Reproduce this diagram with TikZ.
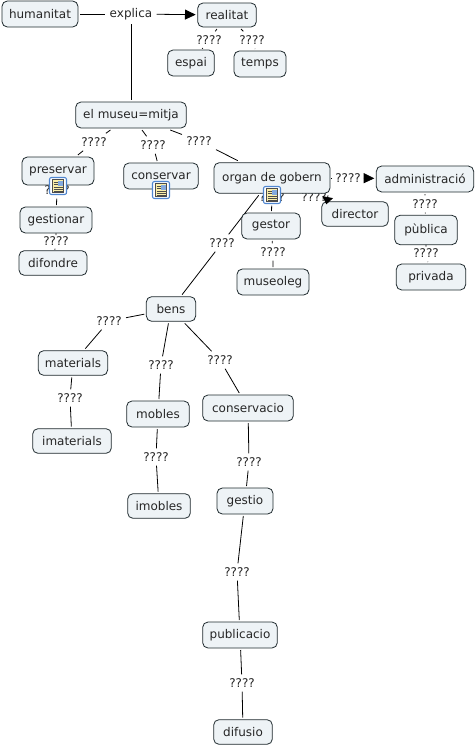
\documentclass[tikz,border=0pt]{standalone}
\usepackage{fontspec}
\setmainfont{DejaVu Sans}
\usetikzlibrary{arrows.meta,backgrounds}
\definecolor{cptfill}{HTML}{EEF3F6}
\definecolor{cptedge}{HTML}{1F2A2E}
\definecolor{iconblue}{HTML}{4F86D0}
\definecolor{iconpaper}{HTML}{FBEFA8}

\begin{document}
\begin{tikzpicture}[
  x=0.75pt, y=-0.75pt,
  font=\fontsize{9}{10}\selectfont,
  cpt/.style={rectangle, rounded corners=4pt, draw=cptedge, line width=0.6pt, outer sep=1.5pt,
              minimum height=19.5pt, inner sep=1pt, fill=cptfill, text=black!85, align=center},
  lbl/.style={inner sep=3pt, text=black!85},
  lnk/.style={draw=black, line width=0.6pt},
  arw/.style={lnk, -{Triangle[length=8pt,width=7.5pt]}},
  noteicon/.pic={
    \draw[iconblue, line width=0.8pt, fill=white, rounded corners=1.5pt] (-8.5,-8.5) rectangle (8.5,8.5);
    \draw[black!70, line width=0.4pt, fill=iconpaper] (-5.5,-6.5) rectangle (5.5,6.5);
    \fill[iconblue!70] (0,-5.5) rectangle (4.5,-0.5);
    \foreach \yy in {-4,-1.5,1,3,5}{\draw[black!70, line width=0.4pt] (-4.5,\yy) -- (-0.5,\yy);}
    \draw[black!70, line width=0.4pt] (-0.5,1) -- (4.5,1) (-0.5,3) -- (4.5,3) (-0.5,5) -- (4.5,5);
  }
]
\useasboundingbox (0,0) rectangle (475,746);

\node[cpt, minimum width=57pt] (humanitat) at (40,14){humanitat};
\node[lbl] (explica) at (131,14){explica};
\node[cpt, minimum width=44pt, minimum height=18pt] (realitat) at (227,15){realitat};
\node[cpt, minimum width=35pt] (espai) at (191,63){espai};
\node[cpt, minimum width=39pt] (temps) at (260,64){temps};
\node[cpt, minimum width=83pt] (museu) at (131,115){el museu=mitja};

\node[cpt, minimum width=54pt, minimum height=21pt] (preservar) at (58,171){preservar};
\node[cpt, minimum width=56pt] (conservar) at (161,176){conservar};
\node[cpt, minimum width=87pt, minimum height=23pt] (organ) at (272,178){organ de gobern};
\node[cpt, minimum width=73pt] (administracio) at (425,179){administració};
\node[cpt, minimum width=50pt, minimum height=18.5pt] (director) at (355,214){director};

\node[cpt, minimum width=54pt] (gestionar) at (56,220){gestionar};
\node[cpt, minimum width=51pt, minimum height=18.5pt] (difondre) at (53,263){difondre};
\node[cpt, minimum width=44pt] (gestor) at (271,226){gestor};
\node[cpt, minimum width=54pt] (museoleg) at (273,282){museoleg};
\node[cpt, minimum width=47pt, minimum height=22pt] (publica) at (426,230){pùblica};
\node[cpt, minimum width=52pt] (privada) at (431,277){privada};

\node[cpt, minimum width=37pt, minimum height=18.5pt] (bens) at (171,309){bens};
\node[cpt, minimum width=52pt, minimum height=18.5pt] (materials) at (73,363){materials};
\node[cpt, minimum width=59pt, minimum height=18.5pt] (imaterials) at (72,441){imaterials};
\node[cpt, minimum width=47pt] (mobles) at (158,414){mobles};
\node[cpt, minimum width=47pt, minimum height=18.5pt] (imobles) at (159,506){imobles};
\node[cpt, minimum width=68pt] (conservacio) at (248,408){conservacio};
\node[cpt, minimum width=42pt] (gestio) at (245,501){gestio};
\node[cpt, minimum width=56pt] (publicacio) at (240,635){publicacio};
\node[cpt, minimum width=44pt, minimum height=18.5pt] (difusio) at (243,732){difusio};

\begin{pgfonlayer}{background}
\node[lbl] (l-espai) at (209,40){????};
\node[lbl] (l-temps) at (252,40){????};
\node[lbl] (l-pres) at (94,142){????};
\node[lbl] (l-cons) at (153,145){????};
\node[lbl] (l-org) at (199,141){????};
\node[lbl] (l-gestr) at (57,190){????};
\node[lbl] (l-dif) at (56,241){????};
\node[lbl] (l-bens) at (222,243){????};
\node[lbl] (l-gest) at (272,197){????};
\node[lbl] (l-mus) at (273,252){????};
\node[lbl] (l-adm) at (348,178){????};
\node[lbl] (l-dir) at (314,197){????};
\node[lbl] (l-pub) at (425,204){????};
\node[lbl] (l-priv) at (426,253){????};
\node[lbl] (l-mat) at (109,321){????};
\node[lbl] (l-imat) at (70,398){????};
\node[lbl] (l-mob) at (161,365){????};
\node[lbl] (l-imob) at (156,457){????};
\node[lbl] (l-cvo) at (220,360){????};
\node[lbl] (l-gsto) at (249,462){????};
\node[lbl] (l-pcio) at (237,572){????};
\node[lbl] (l-dfs) at (242,683){????};

\draw[lnk] (humanitat) -- (explica);
\draw[arw] (explica) -- (realitat);
\draw[lnk] (explica) -- (museu);
\draw[lnk] (realitat) -- (l-espai) -- (espai);
\draw[lnk] (realitat) -- (l-temps) -- (temps);
\draw[lnk] (museu) -- (l-pres) -- (preservar);
\draw[lnk] (museu) -- (l-cons) -- (conservar);
\draw[lnk] (museu) -- (l-org) -- (organ);
\draw[lnk] (preservar) -- (l-gestr) -- (gestionar);
\draw[lnk] (gestionar) -- (l-dif) -- (difondre);
\draw[lnk] (organ) -- (l-bens) -- (bens);
\draw[lnk] (organ) -- (l-gest) -- (gestor);
\draw[lnk] (gestor) -- (l-mus) -- (museoleg);
\draw[lnk] (organ) -- (l-adm);
\draw[arw] (l-adm) -- (administracio);
\draw[lnk] (administracio) -- (l-pub) -- (publica);
\draw[lnk] (publica) -- (l-priv) -- (privada);
\draw[lnk] (bens) -- (l-mat) -- (materials);
\draw[lnk] (materials) -- (l-imat) -- (imaterials);
\draw[lnk] (bens) -- (l-mob) -- (mobles);
\draw[lnk] (mobles) -- (l-imob) -- (imobles);
\draw[lnk] (bens) -- (l-cvo) -- (conservacio);
\draw[lnk] (conservacio) -- (l-gsto) -- (gestio);
\draw[lnk] (gestio) -- (l-pcio) -- (publicacio);
\draw[lnk] (publicacio) -- (l-dfs) -- (difusio);
\end{pgfonlayer}

\draw[arw, -{Triangle[length=5.5pt,width=8pt]}] ([xshift=-3pt]organ.south east) -- ([xshift=5pt,yshift=-3.5pt]director.north west);

\pic (icon-pres) at (58,186) {noteicon};
\pic (icon-cons) at (161,190) {noteicon};
\pic (icon-org) at (272,195) {noteicon};
\end{tikzpicture}
\end{document}
